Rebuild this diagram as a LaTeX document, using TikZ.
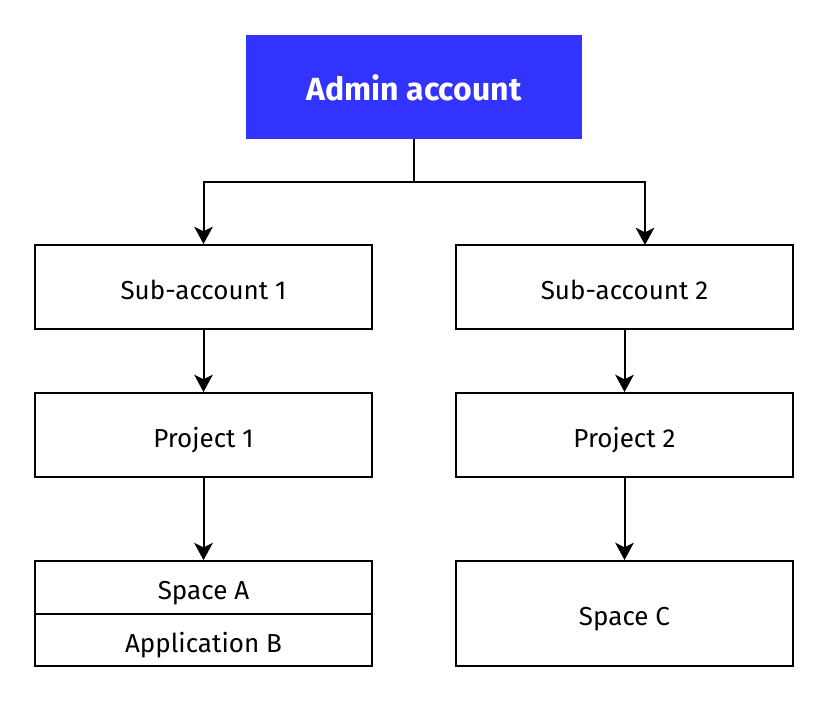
\documentclass[tikz,border=0pt]{standalone}
\usepackage{fontspec}
\setmainfont{Fira Sans}
\usepackage{xcolor}
\usetikzlibrary{arrows.meta,positioning,calc}
\definecolor{adminblue}{RGB}{51,51,255}
\tikzset{
  box/.style={draw=black,line width=1.5pt,fill=white,minimum width=252.75pt,minimum height=63pt,inner sep=0pt,text height=19pt,text depth=1pt,font=\fontsize{19.5}{23}\selectfont},
  halfbox/.style={box,minimum height=39.5pt},
  link/.style={line width=1.5pt,-{Stealth[length=13pt,width=14pt,inset=3.5pt]}}
}
\begin{document}
\begin{tikzpicture}[x=0.75pt,y=-0.75pt]
	\useasboundingbox (0,0) rectangle (828,710);
		\node[fill=adminblue,minimum width=252pt,minimum height=78pt,inner sep=0pt,text height=20.5pt,text depth=1pt,text=white,font=\fontsize{24}{28}\bfseries\selectfont] (admin) at (414,87) {Admin account};
		\node[box] (sub1) at (203.5,287) {Sub-account 1};
		\node[box] (sub2) at (624.5,287) {Sub-account 2};
		\node[box] (proj1) at (203.5,435) {Project 1};
		\node[box] (proj2) at (624.5,435) {Project 2};
		\node[halfbox] (spaceA) at (203.5,587.5) {Space A};
		\node[halfbox] (appB) at (203.5,640) {Application B};
		\node[box,minimum height=78.75pt] (spaceC) at (624.5,613.5) {Space C};
		\coordinate (split) at (414,182);
		\coordinate (in2) at (645,245);
		% tree lines
		\draw[line width=1.5pt] (admin.south) -- (split);
		\draw[link] (split) -| (sub1.north);
		\draw[link] (split) -| (in2);
		\draw[link] (sub1) -- (proj1);
		\draw[link] (sub2) -- (proj2);
		\draw[link] (proj1) -- (spaceA);
		\draw[link] (proj2) -- (spaceC);
	\end{tikzpicture}
\end{document}
